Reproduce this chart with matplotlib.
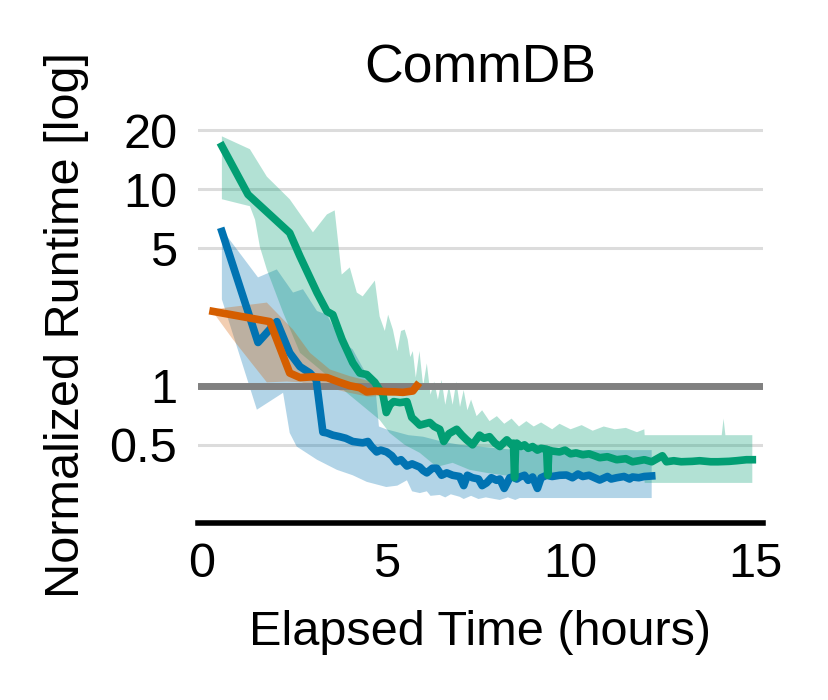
import numpy as np
import matplotlib
matplotlib.use("Agg")
import matplotlib.pyplot as plt

plt.rcParams['font.family'] = ['Liberation Sans', 'DejaVu Sans']

# ---------------- data ----------------
title = "CommDB"
xlabel = "Elapsed Time (hours)"
ylabel = "Normalized Runtime [log]"
yticks = [0.5, 1, 5, 10, 20]
ytick_labels = ["0.5", "1", "5", "10", "20"]
xticks = [0, 5, 10, 15]

# blue series (median line)
blue_x = [0.54, 1.52, 2.03, 2.38, 2.66, 2.93, 3.10, 3.28, 3.39, 3.55, 3.74, 3.90, 4.09, 4.25, 4.36,
          4.50, 4.60, 4.74, 4.85, 5.01, 5.15, 5.28, 5.40, 5.56, 5.70, 5.91, 6.00, 6.10, 6.25, 6.37,
          6.50, 6.64, 6.80, 6.99, 7.10, 7.20, 7.34, 7.50, 7.60, 7.72, 7.85, 7.99, 8.08, 8.20, 8.35,
          8.43, 8.54, 8.62, 8.75, 8.85, 8.97, 9.10, 9.20, 9.35, 9.50, 9.70, 9.89, 10.05, 10.2, 10.33,
          10.5, 10.65, 10.79, 11.0, 11.1, 11.25, 11.45, 11.6, 11.68, 11.85, 12.0, 12.2]
blue_y = [6.10, 1.66, 2.12, 1.47, 1.25, 1.16, 1.07, 0.58, 0.575, 0.56, 0.55, 0.54, 0.52, 0.515, 0.512,
          0.52, 0.49, 0.46, 0.47, 0.46, 0.44, 0.41, 0.42, 0.39, 0.40, 0.385, 0.37, 0.36, 0.38, 0.38,
          0.35, 0.36, 0.35, 0.345, 0.31, 0.35, 0.34, 0.335, 0.31, 0.32, 0.34, 0.33, 0.335, 0.30, 0.34,
          0.343, 0.335, 0.343, 0.35, 0.33, 0.343, 0.30, 0.34, 0.35, 0.345, 0.35, 0.351, 0.34, 0.355, 0.345,
          0.35, 0.34, 0.331, 0.345, 0.335, 0.34, 0.345, 0.335, 0.343, 0.34, 0.345, 0.347]
# blue band
blue_up_x = [0.54, 1.52, 2.03, 2.47, 2.74, 3.12, 3.39, 3.74, 4.09, 4.40, 4.70, 4.80, 5.00, 5.30,
             5.60, 6.00, 6.50, 7.00, 7.50, 8.00, 8.60, 12.2]
blue_up_y = [6.25, 3.56, 3.91, 2.98, 3.10, 2.40, 2.30, 1.72, 1.53, 1.20, 1.00, 0.62, 0.60, 0.58,
             0.56, 0.55, 0.52, 0.50, 0.49, 0.48, 0.47, 0.47]
blue_lo_x = [0.54, 1.49, 2.20, 2.38, 2.57, 3.12, 3.66, 4.09, 4.47, 5.00, 5.30, 5.56, 5.70, 5.91,
             6.10, 6.20, 6.45, 6.60, 6.75, 6.99, 7.10, 7.30, 7.50, 7.70, 8.08, 8.30, 8.50, 8.62, 12.2]
blue_lo_y = [2.75, 0.755, 0.92, 0.575, 0.49, 0.42, 0.373, 0.35, 0.324, 0.305, 0.31, 0.33, 0.29, 0.284,
             0.29, 0.275, 0.278, 0.27, 0.28, 0.272, 0.265, 0.275, 0.265, 0.27, 0.262, 0.27, 0.262, 0.268, 0.268]

# orange series
orange_x = [0.30, 1.84, 2.38, 2.66, 3.01, 3.39, 3.74, 4.01, 4.28, 4.47, 4.70, 5.01, 5.25, 5.45, 5.72, 5.83]
orange_y = [2.39, 2.12, 1.16, 1.10, 1.11, 1.10, 1.04, 1.00, 0.977, 0.93, 0.94, 0.932, 0.93, 0.925, 0.94, 1.00]
orange_up_x = [0.35, 0.68, 1.76, 2.47, 2.93, 3.47, 4.0, 4.5, 5.0, 5.5, 5.83]
orange_up_y = [2.45, 2.50, 2.65, 1.93, 1.47, 1.21, 1.12, 1.06, 1.02, 1.00, 1.03]
orange_lo_x = [0.35, 0.84, 1.76, 2.3, 2.7, 3.0, 3.5, 4.0, 4.5, 5.0, 5.5, 5.83]
orange_lo_y = [2.30, 1.72, 1.04, 1.05, 1.04, 1.00, 0.97, 0.92, 0.88, 0.89, 0.90, 0.96]

# green series
green_x = [0.54, 1.25, 2.38, 2.66, 3.12, 3.39, 3.55, 3.80, 4.09, 4.28, 4.47, 4.69, 4.82, 4.91,
           5.00, 5.10, 5.20, 5.37, 5.56, 5.69, 5.80, 5.91, 6.05, 6.18, 6.30, 6.45, 6.56, 6.70,
           6.91, 7.05, 7.18, 7.34, 7.53, 7.65, 7.80, 7.95, 8.08, 8.27, 8.40, 8.45, 8.48, 8.51,
           8.54, 8.65, 8.75, 8.85, 8.97, 9.10, 9.20, 9.35, 9.38, 9.41, 9.50, 9.70, 9.85, 10.0,
           10.15, 10.33, 10.5, 10.65, 10.79, 11.0, 11.25, 11.5, 11.68, 11.85, 12.0, 12.2, 12.49,
           12.6, 12.8, 13.0, 13.3, 13.5, 13.8, 14.0, 14.3, 14.5, 14.77, 14.93]
green_y = [16.6, 9.4, 6.0, 4.55, 2.98, 2.39, 2.30, 1.72, 1.31, 1.16, 1.14, 1.04, 0.95, 0.90,
           0.73, 0.80, 0.83, 0.82, 0.83, 0.69, 0.66, 0.63, 0.64, 0.65, 0.62, 0.60, 0.52, 0.57,
           0.60, 0.56, 0.53, 0.50, 0.56, 0.54, 0.55, 0.51, 0.49, 0.53, 0.50, 0.51, 0.34, 0.50,
           0.51, 0.49, 0.50, 0.48, 0.49, 0.47, 0.48, 0.475, 0.35, 0.47, 0.465, 0.46, 0.47, 0.45,
           0.455, 0.445, 0.45, 0.44, 0.43, 0.435, 0.42, 0.425, 0.41, 0.415, 0.42, 0.41, 0.44,
           0.41, 0.415, 0.41, 0.412, 0.415, 0.41, 0.41, 0.412, 0.415, 0.42, 0.42]
green_up_x = [0.54, 1.30, 1.76, 2.38, 3.01, 3.39, 3.60, 3.79, 4.01, 4.20, 4.36, 4.69, 4.82, 4.96,
              5.05, 5.18, 5.30, 5.40, 5.50, 5.58, 5.65, 5.72, 5.80, 5.90, 6.00, 6.10, 6.20, 6.30,
              6.40, 6.50, 6.60, 6.70, 6.80, 6.90, 7.00, 7.10, 7.20, 7.30, 7.45, 7.60, 7.80, 8.00,
              8.20, 8.40, 8.60, 8.80, 9.00, 9.20, 9.50, 9.70, 10.0, 10.3, 10.6, 10.9, 11.2, 11.5,
              11.8, 12.0, 12.01, 14.10, 14.15, 14.20, 14.93]
green_up_y = [18.6, 16.0, 11.6, 8.9, 6.04, 7.45, 7.81, 3.68, 4.00, 2.98, 2.85, 3.43, 2.25, 1.9,
              2.3, 1.93, 1.5, 1.9, 1.93, 1.72, 1.4, 1.5, 1.1, 1.5, 1.0, 1.3, 0.9, 1.05,
              0.85, 1.07, 0.8, 1.0, 0.8, 1.05, 0.78, 0.95, 0.75, 0.85, 0.70, 0.75, 0.66, 0.70,
              0.64, 0.68, 0.62, 0.66, 0.62, 0.65, 0.60, 0.64, 0.60, 0.63, 0.59, 0.62, 0.60, 0.61,
              0.58, 0.60, 0.56, 0.56, 0.68, 0.56, 0.56]
green_lo_x = [0.54, 1.30, 1.44, 1.57, 1.76, 2.20, 2.66, 3.20, 3.93, 4.82, 5.09, 5.50, 5.91, 6.37,
              6.80, 7.26, 7.72, 8.20, 8.62, 12.0, 12.01, 14.93]
green_lo_y = [8.9, 8.2, 7.0, 5.1, 3.9, 2.36, 1.47, 1.21, 0.92, 0.67, 0.575, 0.50, 0.455, 0.386,
              0.405, 0.373, 0.36, 0.35, 0.343, 0.34, 0.32, 0.32]

# ---------------- style ----------------
C_BLUE = "#0173b2"
C_ORANGE = "#d55e00"
C_GREEN = "#029e73"
FS = 35
LW = 5.5

W, H = 829, 700
fig = plt.figure(figsize=(W / 100, H / 100), dpi=100)
ax_l, ax_r, ax_t, ax_b = 198, 763, 126, 523
ax = fig.add_axes([ax_l / W, (H - ax_b) / H, (ax_r - ax_l) / W, (ax_b - ax_t) / H])

ax.set_yscale("log")
ax.set_xlim(-0.108, 15.22)
ax.set_ylim(0.2, 21)


def band(xu, yu, xl, yl, color):
    xs = np.concatenate([np.asarray(xu), np.asarray(xl)[::-1]])
    ys = np.concatenate([np.asarray(yu), np.asarray(yl)[::-1]])
    ax.fill(xs, ys, color=color, alpha=0.3, lw=0, zorder=1)


band(blue_up_x, blue_up_y, blue_lo_x, blue_lo_y, C_BLUE)
band(green_up_x, green_up_y, green_lo_x, green_lo_y, C_GREEN)
band(orange_up_x, orange_up_y, orange_lo_x, orange_lo_y, C_ORANGE)

for yv in [0.5, 5, 10, 20]:
    ax.axhline(yv, color="#dcdcdc", lw=2.2, zorder=0)
ax.axhline(1, color="#808080", lw=5.0, zorder=2, solid_capstyle="round")

ax.plot(blue_x, blue_y, color=C_BLUE, lw=LW, zorder=3, solid_joinstyle="round")
ax.plot(green_x, green_y, color=C_GREEN, lw=LW, zorder=4, solid_joinstyle="round")
ax.plot(orange_x, orange_y, color=C_ORANGE, lw=LW, zorder=5, solid_joinstyle="round")

ax.set_yticks(yticks)
ax.set_yticklabels(ytick_labels)
ax.yaxis.set_minor_locator(matplotlib.ticker.NullLocator())
ax.set_xticks(xticks)
ax.tick_params(axis="both", length=0, labelsize=FS)
ax.tick_params(axis="y", pad=15)
ax.tick_params(axis="x", pad=14)

for s in ["left", "right", "top"]:
    ax.spines[s].set_visible(False)
ax.spines["bottom"].set_linewidth(4)
ax.spines["bottom"].set_color("black")

ax.set_xlabel(xlabel, fontsize=FS, labelpad=16)
ax.set_ylabel(ylabel, fontsize=FS, labelpad=15)
ax.set_title(title, fontsize=38.5, pad=31)

fig.savefig("out.png", dpi=100)
